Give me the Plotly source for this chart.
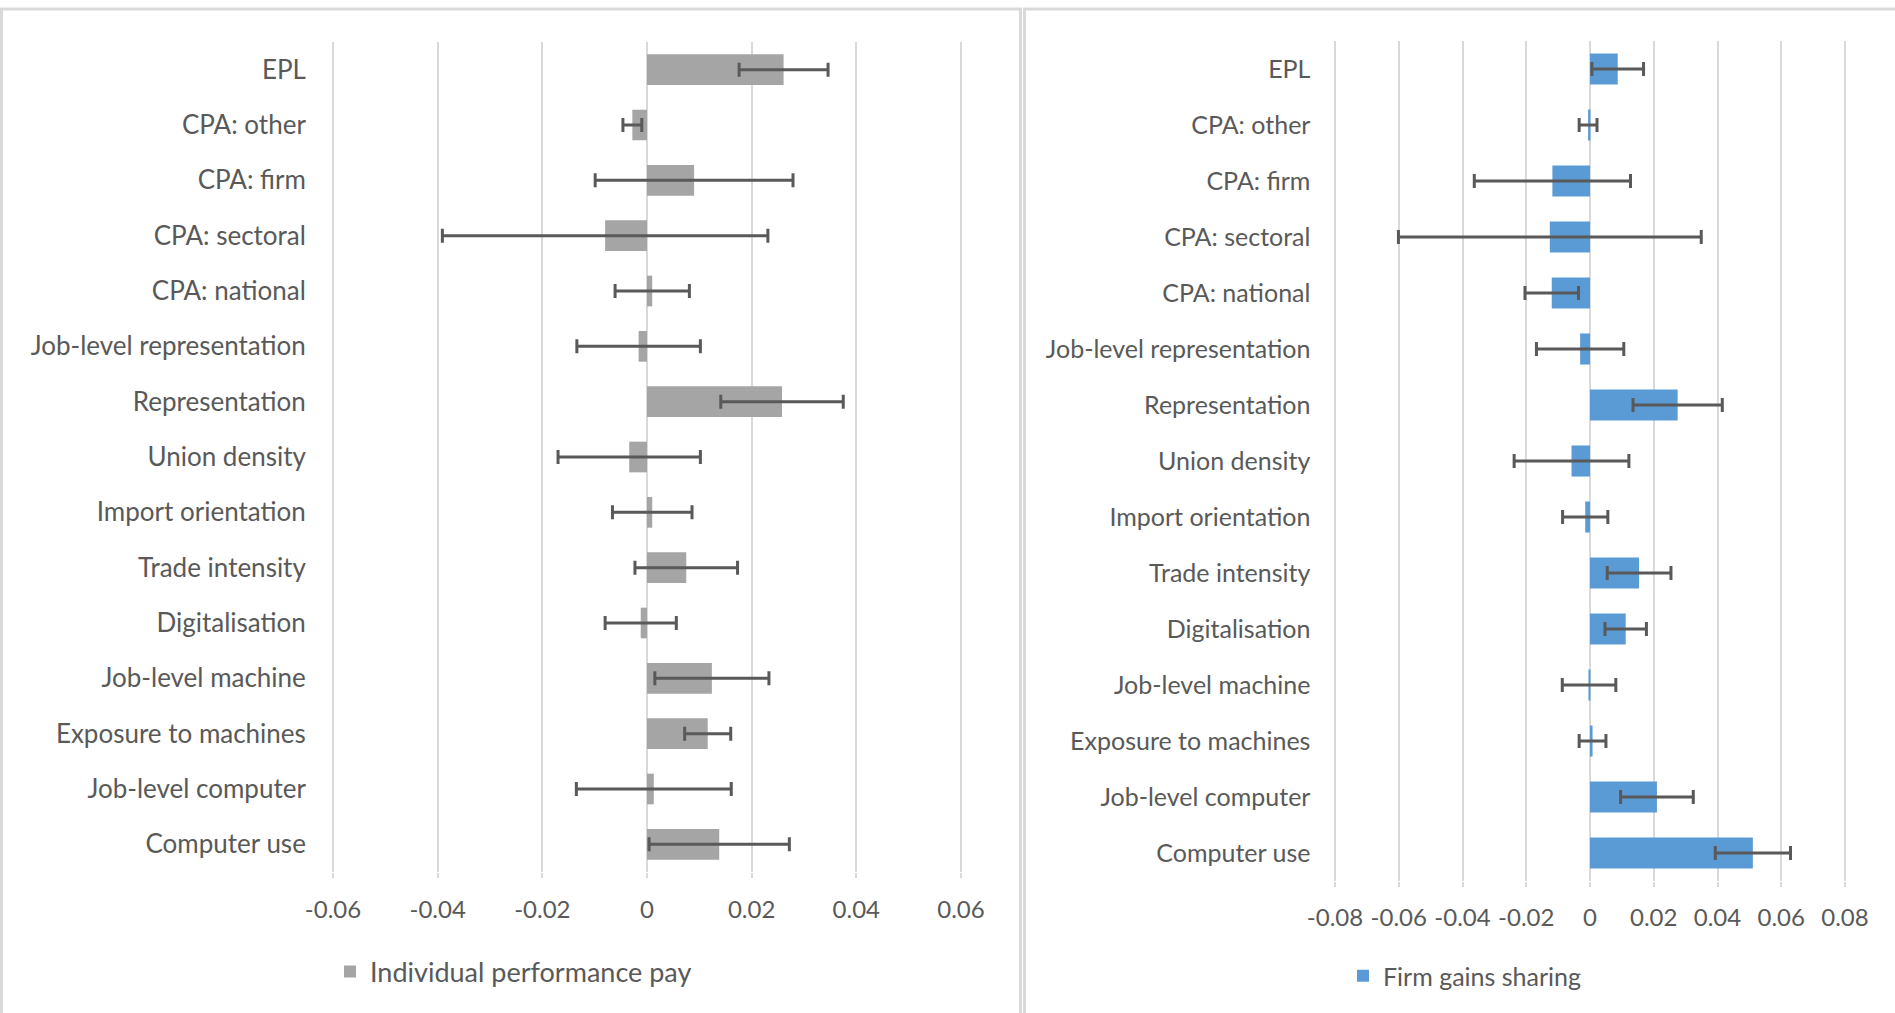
import plotly.graph_objects as go

# Regression coefficients with confidence half-widths, one row per determinant
categories = [
    "EPL", "CPA: other", "CPA: firm", "CPA: sectoral", "CPA: national",
    "Job-level representation", "Representation", "Union density",
    "Import orientation", "Trade intensity", "Digitalisation",
    "Job-level machine", "Exposure to machines", "Job-level computer",
    "Computer use",
]

ipp_coef = [0.0261, -0.0028, 0.0090, -0.0080, 0.0010, -0.0016, 0.0258, -0.0034,
            0.0010, 0.0075, -0.0012, 0.0124, 0.0116, 0.0013, 0.0138]
ipp_err = [0.0085, 0.0018, 0.0189, 0.0311, 0.0071, 0.0118, 0.0117, 0.0136,
           0.0076, 0.0098, 0.0068, 0.0109, 0.0044, 0.0148, 0.0134]

fgs_coef = [0.0087, -0.0006, -0.0118, -0.0126, -0.0120, -0.0031, 0.0275, -0.0058,
            -0.0015, 0.0154, 0.0112, -0.0003, 0.0008, 0.0210, 0.0511]
fgs_err = [0.0081, 0.0028, 0.0245, 0.0475, 0.0084, 0.0137, 0.0140, 0.0180,
           0.0071, 0.0100, 0.0065, 0.0084, 0.0042, 0.0114, 0.0118]

left_ticks = [-0.06, -0.04, -0.02, 0, 0.02, 0.04, 0.06]
right_ticks = [-0.08, -0.06, -0.04, -0.02, 0, 0.02, 0.04, 0.06, 0.08]

W, H = 1895, 1013
FONT = "Lato"
TXT = "#595959"
GRID = "#D9D9D9"
ERR = "#595959"


def px_x(p):
    return p / W


def px_y(p):
    return 1 - p / H


fig = go.Figure()

fig.add_trace(go.Bar(
    y=categories, x=ipp_coef, orientation="h",
    name="Individual performance pay",
    marker=dict(color="#A5A5A5", line=dict(width=0)),
    error_x=dict(type="data", array=ipp_err, color=ERR, thickness=3, width=7),
    xaxis="x", yaxis="y", legend="legend", showlegend=True,
))

fig.add_trace(go.Bar(
    y=categories, x=fgs_coef, orientation="h",
    name="Firm gains sharing",
    marker=dict(color="#5B9BD5", line=dict(width=0)),
    error_x=dict(type="data", array=fgs_err, color=ERR, thickness=3, width=7),
    xaxis="x2", yaxis="y2", legend="legend2", showlegend=True,
))

axis_common = dict(
    showgrid=True, gridcolor=GRID, gridwidth=2,
    zeroline=True, zerolinecolor=GRID, zerolinewidth=2,
    showline=False,
    ticks="outside", ticklen=5, tickcolor=GRID, tickwidth=2,
    tickfont=dict(family=FONT, size=24, color=TXT),
    automargin=False,
)

# small padding so the outermost gridlines are not clipped at the plot edges
pad_l = 0.0006
pad_r = 0.0008
px_l = 628 / 0.12
px_r = 510 / 0.16

fig.update_layout(
    width=W, height=H,
    margin=dict(l=0, r=0, t=0, b=0, autoexpand=False),
    paper_bgcolor="white", plot_bgcolor="white",
    bargap=0.445,
    showlegend=True,
    xaxis=dict(
        domain=[px_x(333 - pad_l * px_l), px_x(961 + pad_l * px_l)],
        range=[-0.06 - pad_l, 0.06 + pad_l],
        tickvals=left_ticks, ticktext=["-0.06", "-0.04", "-0.02", "0", "0.02", "0.04", "0.06"],
        anchor="y", ticklabelstandoff=11, **axis_common,
    ),
    yaxis=dict(
        domain=[px_y(872), px_y(42)], autorange="reversed",
        showgrid=False, zeroline=False, showline=False, ticks="",
        tickfont=dict(family=FONT, size=26, color=TXT),
        ticklabelstandoff=23, anchor="x", automargin=False,
    ),
    xaxis2=dict(
        domain=[px_x(1335 - pad_r * px_r), px_x(1845 + pad_r * px_r)],
        range=[-0.08 - pad_r, 0.08 + pad_r],
        tickvals=right_ticks,
        ticktext=["-0.08", "-0.06", "-0.04", "-0.02", "0", "0.02", "0.04", "0.06", "0.08"],
        anchor="y2", ticklabelstandoff=10, **axis_common,
    ),
    yaxis2=dict(
        domain=[px_y(881), px_y(41)], autorange="reversed",
        showgrid=False, zeroline=False, showline=False, ticks="",
        tickfont=dict(family=FONT, size=25, color=TXT),
        ticklabelstandoff=21, anchor="x2", automargin=False,
    ),
    legend=dict(
        x=px_x(330), y=px_y(972), xanchor="left", yanchor="middle",
        font=dict(family=FONT, size=27, color=TXT),
        bgcolor="rgba(0,0,0,0)", itemwidth=30, visible=True,
    ),
    legend2=dict(
        x=px_x(1343), y=px_y(976), xanchor="left", yanchor="middle",
        font=dict(family=FONT, size=25, color=TXT),
        bgcolor="rgba(0,0,0,0)", itemwidth=30, visible=True,
    ),
    shapes=[
        dict(type="rect", xref="paper", yref="paper",
             x0=px_x(1.5), x1=px_x(1020.5), y0=-0.05, y1=px_y(9),
             line=dict(color=GRID, width=3), fillcolor="rgba(0,0,0,0)", layer="below"),
        dict(type="rect", xref="paper", yref="paper",
             x0=px_x(1024.5), x1=px_x(1897), y0=-0.05, y1=px_y(9),
             line=dict(color=GRID, width=3), fillcolor="rgba(0,0,0,0)", layer="below"),
    ],
)

fig.write_html("out.html")
